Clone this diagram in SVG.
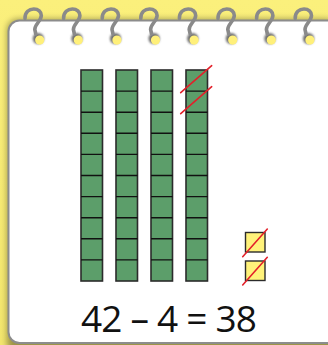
<svg xmlns="http://www.w3.org/2000/svg" width="328" height="345" viewBox="0 0 328 345">
<defs>
<style>
.rod{fill:#5c9e6a;stroke:#2b2b2b;stroke-width:1.6}
.div{stroke:#111;stroke-width:1.4}
.one{fill:#fff27a;stroke:#2b2b2b;stroke-width:1.4}
.slash{stroke:#e3202a;stroke-width:1.6;stroke-linecap:round;fill:none}
.ring{fill:none;stroke:#8a8a8a;stroke-width:3.6;stroke-linecap:round}
.lbl{font-family:"Open Sans","Noto Sans","Liberation Sans",sans-serif;font-size:37px;fill:#111}
</style>
<filter id="sh" x="-10%" y="-10%" width="120%" height="120%"><feGaussianBlur stdDeviation="3"/></filter>
<filter id="hb" x="-50%" y="-50%" width="200%" height="200%"><feGaussianBlur stdDeviation="0.8"/></filter>
<linearGradient id="bg" x1="0" y1="0" x2="0" y2="1"><stop offset="0" stop-color="#fbf07c"/><stop offset="1" stop-color="#f3e66e"/></linearGradient>
<g id="hole">
<circle cx="0" cy="0" r="5.6" fill="#6f6f6f" filter="url(#hb)"/>
<circle cx="1.4" cy="1.6" r="4.6" fill="#fff07a"/>
</g>
<path id="rg" class="ring" d="M-13.3,18.5 C-13.5,12 -9,9 -4.5,9 C0,9 3,12 3,15.5 C3,21 -3.5,24 -3.5,29.5 L-2.5,34"/>
</defs>
<rect x="0" y="0" width="328" height="345" fill="url(#bg)"/>
<rect x="7" y="19" width="330" height="335" rx="11" fill="#000" opacity="0.35" filter="url(#sh)"/>
<rect id="card" x="8.5" y="20.5" width="330" height="322.5" rx="11" fill="#fff" stroke="#8c8c8c" stroke-width="2"/>
<g id="spiral">
<use href="#hole" x="38.3" y="38.5"/><use href="#rg" x="38.3"/>
<use href="#hole" x="76.9" y="38.5"/><use href="#rg" x="76.9"/>
<use href="#hole" x="115.5" y="38.5"/><use href="#rg" x="115.5"/>
<use href="#hole" x="154.1" y="38.5"/><use href="#rg" x="154.1"/>
<use href="#hole" x="192.7" y="38.5"/><use href="#rg" x="192.7"/>
<use href="#hole" x="231.3" y="38.5"/><use href="#rg" x="231.3"/>
<use href="#hole" x="269.9" y="38.5"/><use href="#rg" x="269.9"/>
<use href="#hole" x="308.5" y="38.5"/><use href="#rg" x="308.5"/>
</g>
<defs>
<g id="rodshape">
<rect class="rod" x="0" y="0" width="21.5" height="211"/>
<path class="div" d="M0,21.1H21.5M0,42.2H21.5M0,63.3H21.5M0,84.4H21.5M0,105.5H21.5M0,126.6H21.5M0,147.7H21.5M0,168.8H21.5M0,189.9H21.5"/>
</g>
</defs>
<g id="ten1"><use href="#rodshape" x="81" y="70"/></g>
<g id="ten2"><use href="#rodshape" x="116" y="70"/></g>
<g id="ten3"><use href="#rodshape" x="151" y="70"/></g>
<g id="ten4"><use href="#rodshape" x="186" y="70"/>
<path class="slash" d="M180.7,92.7L211.7,65.7M180.7,113.7L211.7,86.7"/></g>
<g id="one1"><rect class="one" x="245.5" y="232.5" width="19.5" height="19.5"/>
<path class="slash" d="M242.7,256.7L267.3,229"/></g>
<g id="one2"><rect class="one" x="245.5" y="261" width="19.5" height="19.5"/>
<path class="slash" d="M242.7,285L267.3,257.3"/></g>
<g id="equation"><text class="lbl" x="81" y="331.5" textLength="176" lengthAdjust="spacing">42 – 4 = 38</text></g>
</svg>
